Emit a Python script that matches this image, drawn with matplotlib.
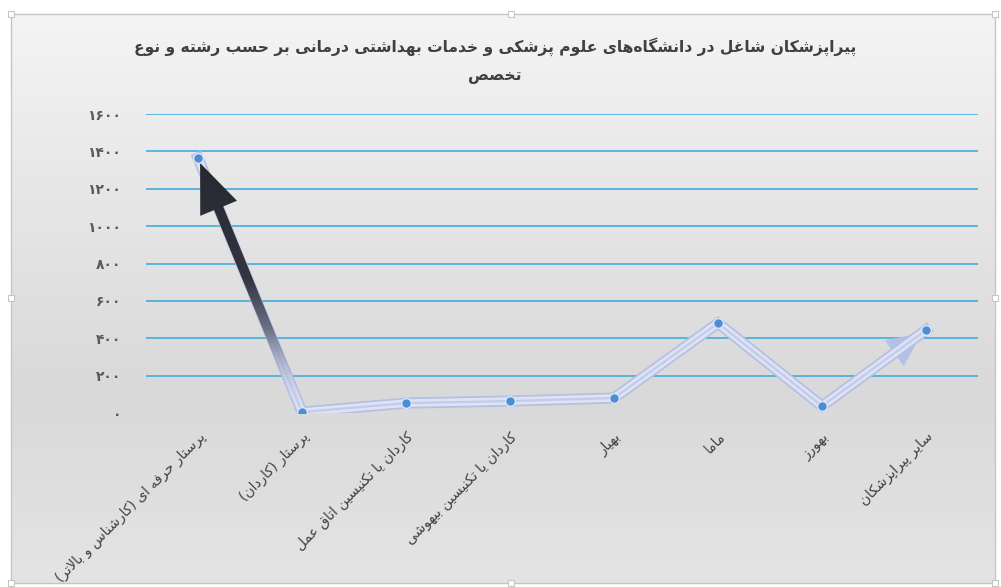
import numpy as np
import matplotlib
matplotlib.use("Agg")
import matplotlib.pyplot as plt
from matplotlib.patches import FancyArrowPatch, Rectangle
from matplotlib.colors import LinearSegmentedColormap
import matplotlib.patheffects as pe

# data
title = "پیراپزشکان شاغل در دانشگاه‌های علوم پزشکی و خدمات بهداشتی درمانی بر حسب رشته و نوع تخصص"
title_break = "نوع"
categories = [
    "پرستار حرفه ای (کارشناس و بالاتر)",
    "پرستار (کاردان)",
    "کاردان یا تکنیسین اتاق عمل",
    "کاردان یا تکنیسین بیهوشی",
    "بهیار",
    "ماما",
    "بهورز",
    "سایر پیراپزشکان",
]
values = [1365, 5, 53, 64, 80, 481, 37, 444]
yticks = [0, 200, 400, 600, 800, 1000, 1200, 1400, 1600]


# simple arabic shaping (matplotlib has no complex text layout)
# letter: (isolated, final, initial, medial); 2-form letters join only to the right
FORMS = {
    "ا": (0xFE8D, 0xFE8E), "ب": (0xFE8F, 0xFE90, 0xFE91, 0xFE92),
    "ت": (0xFE95, 0xFE96, 0xFE97, 0xFE98), "ح": (0xFEA1, 0xFEA2, 0xFEA3, 0xFEA4),
    "خ": (0xFEA5, 0xFEA6, 0xFEA7, 0xFEA8), "د": (0xFEA9, 0xFEAA),
    "ر": (0xFEAD, 0xFEAE), "ز": (0xFEAF, 0xFEB0),
    "س": (0xFEB1, 0xFEB2, 0xFEB3, 0xFEB4), "ش": (0xFEB5, 0xFEB6, 0xFEB7, 0xFEB8),
    "ص": (0xFEB9, 0xFEBA, 0xFEBB, 0xFEBC), "ع": (0xFEC9, 0xFECA, 0xFECB, 0xFECC),
    "غ": (0xFECD, 0xFECE, 0xFECF, 0xFED0), "ف": (0xFED1, 0xFED2, 0xFED3, 0xFED4),
    "ق": (0xFED5, 0xFED6, 0xFED7, 0xFED8), "ک": (0xFB8E, 0xFB8F, 0xFB90, 0xFB91),
    "گ": (0xFB92, 0xFB93, 0xFB94, 0xFB95), "پ": (0xFB56, 0xFB57, 0xFB58, 0xFB59),
    "ل": (0xFEDD, 0xFEDE, 0xFEDF, 0xFEE0), "م": (0xFEE1, 0xFEE2, 0xFEE3, 0xFEE4),
    "ن": (0xFEE5, 0xFEE6, 0xFEE7, 0xFEE8), "ه": (0xFEE9, 0xFEEA, 0xFEEB, 0xFEEC),
    "و": (0xFEED, 0xFEEE), "ی": (0xFBFC, 0xFBFD, 0xFBFE, 0xFBFF),
}
MIRROR = {"(": ")", ")": "("}


def shape(text):
    out = []
    chars = list(text)
    i = 0
    while i < len(chars):
        c = chars[i]
        if c not in FORMS:
            if c != "\u200c":
                out.append(MIRROR.get(c, c))
            i += 1
            continue
        prev = chars[i - 1] if i > 0 else ""
        nxt = chars[i + 1] if i + 1 < len(chars) else ""
        join_prev = prev in FORMS and len(FORMS[prev]) == 4
        if c == "ل" and nxt == "ا":
            out.append(chr(0xFEFC if join_prev else 0xFEFB))
            i += 2
            continue
        join_next = len(FORMS[c]) == 4 and nxt in FORMS
        f = FORMS[c]
        if join_prev and join_next:
            g = f[3]
        elif join_prev:
            g = f[1]
        elif join_next:
            g = f[2]
        else:
            g = f[0]
        out.append(chr(g))
        i += 1
    return "".join(out[::-1])


def fa_digits(n):
    return "".join(chr(0x06F0 + int(d)) for d in str(n))


fig = plt.figure(figsize=(10.01, 5.87), dpi=100)

# chart area background (gradient) and frame
bg = fig.add_axes([0, 0, 1, 1], zorder=0)
bg.axis("off")
grad = np.linspace(0, 1, 256).reshape(-1, 1)
bg_cmap = LinearSegmentedColormap.from_list("bg", ["#f4f4f4", "#e6e6e6", "#d9d9d9", "#e4e4e4"])
bg.imshow(grad, extent=[11, 995, 583, 14], cmap=bg_cmap, aspect="auto")
bg.add_patch(Rectangle((11, 14), 984, 569, fill=False, edgecolor="#c6c6c6", lw=1))
for hx, hy in [(11, 14), (511, 14), (995, 14), (11, 298), (995, 298), (11, 583), (511, 583), (995, 583)]:
    bg.add_patch(Rectangle((hx - 3, hy - 3), 6, 6, facecolor="white", edgecolor="#c6c6c6", lw=0.8))
bg.set_xlim(0, 1001)
bg.set_ylim(587, 0)

ax = fig.add_axes([146 / 1001, 1 - 413 / 587, 832 / 1001, 299 / 587], zorder=1)
ax.patch.set_alpha(0)

x = np.arange(len(values))

for t in yticks[1:]:
    ax.axhline(t, color="#35a7dc", lw=1.1, zorder=1)

# main line with compound stroke look
ax.plot(x, values, color="#c3cbea", lw=1.6, zorder=3, solid_joinstyle="miter",
        path_effects=[pe.Stroke(linewidth=8, foreground="#b4bfe3"),
                      pe.Stroke(linewidth=5.5, foreground="#dde3f4"),
                      pe.Normal()])

# pale arrow head at the end (shaft hidden under the line)
end_arrow = FancyArrowPatch(posA=(x[-2], values[-2]), posB=(x[-1], values[-1]),
                            arrowstyle="simple,head_length=1.2,head_width=1.1,tail_width=0.2",
                            mutation_scale=20, facecolor="#b3c1e8", edgecolor="#b3c1e8",
                            lw=0.5, shrinkA=0, shrinkB=4, zorder=2.5)
ax.add_patch(end_arrow)

# dark gradient arrow pointing to the first point
start_arrow = FancyArrowPatch(posA=(x[1], values[1]), posB=(x[0], values[0]),
                              arrowstyle="simple,head_length=1.6,head_width=1.3,tail_width=0.32",
                              mutation_scale=22, facecolor="none", edgecolor="none",
                              shrinkA=0, shrinkB=4, zorder=4)
ax.add_patch(start_arrow)
arrow_cmap = LinearSegmentedColormap.from_list(
    "arr", [(0.0, (0.78, 0.81, 0.92, 0.0)), (0.1, (0.72, 0.75, 0.87, 0.5)),
            (0.28, (0.42, 0.44, 0.52, 1.0)), (0.45, (0.2, 0.21, 0.25, 1.0)),
            (1.0, (0.13, 0.14, 0.17, 1.0))])
img = ax.imshow(np.linspace(0, 1, 256).reshape(-1, 1), extent=[-0.5, 1.5, 0, 1600],
                origin="lower", aspect="auto", cmap=arrow_cmap, zorder=5)
img.set_clip_path(start_arrow)

ax.plot(x, values, "o", color="#4a8fd6", ms=7, mec="#dbe6f6", mew=1, zorder=6)

ax.set_xlim(-0.5, len(values) - 0.5)
ax.set_ylim(0, 1600)
ax.set_yticks(yticks)
ax.set_yticklabels([fa_digits(t) for t in yticks], fontsize=10, fontweight="bold", color="#595959")
ax.set_xticks(x)
ax.set_xticklabels([shape(c) for c in categories], rotation=45, ha="right",
                   rotation_mode="anchor", fontsize=10, color="#404040")
ax.tick_params(axis="both", length=0)
ax.tick_params(axis="y", pad=18)
ax.tick_params(axis="x", pad=12)
for s in ax.spines.values():
    s.set_visible(False)

words = title.split(" ")
k = words.index(title_break) + 1
line1 = " ".join(words[:k])
line2 = " ".join(words[k:])
fig.text(495 / 1001, 1 - 47 / 587, shape(line1), ha="center", va="center",
         fontsize=11.2, fontweight="bold", color="#404040")
fig.text(495 / 1001, 1 - 77 / 587, shape(line2), ha="center", va="center",
         fontsize=11.2, fontweight="bold", color="#404040")

fig.savefig("out.png", dpi=100)
